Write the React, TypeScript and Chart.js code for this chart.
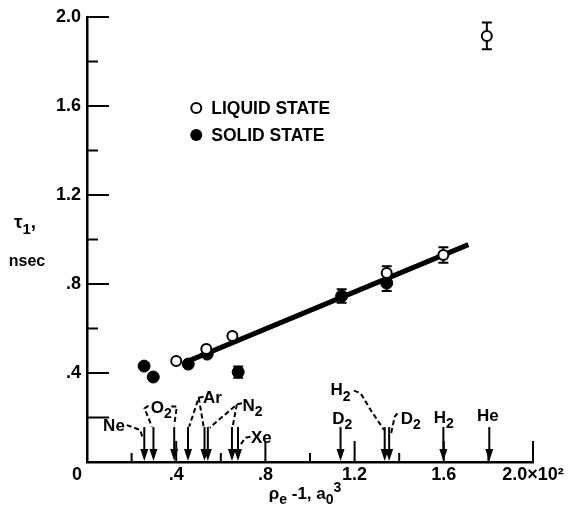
import { useEffect, useRef } from 'react';
import { Chart, registerables } from 'chart.js';

Chart.register(...registerables);

// ---- data ----
const liquidX = [0.40, 0.535, 0.652, 1.344, 1.598, 1.793];
const liquidY = [0.454, 0.508, 0.566, 0.85, 0.93, 1.915];
const liquidErr = [0, 0, 0, 0.03, 0.035, 0.06];

const solidX = [0.256, 0.297, 0.454, 0.539, 0.678, 1.142, 1.344];
const solidY = [0.431, 0.382, 0.44, 0.485, 0.404, 0.746, 0.804];
const solidErr = [0, 0, 0, 0, 0.025, 0.03, 0.035];

const fitX = [0.44, 1.71];
const fitY = [0.448, 0.977];

const xTickLabels = ['', '', '.4', '', '.8', '', '1.2', '', '1.6', '', '2.0×10²'];
const yTickLabels = ['', '', '.4', '', '.8', '', '1.2', '', '1.6', '', '2.0'];

// marker arrows on the x axis (value of rho_e^-1 for each gas)
const arrowX = [0.257, 0.298, 0.391, 0.453, 0.527, 0.542, 0.65, 0.677, 1.137, 1.335, 1.355, 1.598, 1.804];
const arrowTop = 0.157;

const gasLabels = ['Ne', 'O_2', 'Ar', 'N_2', 'Xe', 'H_2', 'D_2', 'D_2', 'H_2', 'He'];
const gasLabelX = [0.121, 0.333, 0.562, 0.742, 0.782, 1.137, 1.145, 1.452, 1.6, 1.798];
const gasLabelY = [0.166, 0.247, 0.292, 0.258, 0.112, 0.326, 0.198, 0.198, 0.204, 0.211];

const leaders: number[][][] = [
  [[0.178, 0.166], [0.238, 0.144], [0.25, 0.108]],
  [[0.276, 0.253], [0.258, 0.241], [0.291, 0.159]],
  [[0.378, 0.249], [0.403, 0.249], [0.391, 0.166]],
  [[0.523, 0.293], [0.501, 0.289], [0.458, 0.159]],
  [[0.501, 0.289], [0.523, 0.159]],
  [[0.695, 0.264], [0.672, 0.259], [0.55, 0.154]],
  [[0.672, 0.259], [0.653, 0.159]],
  [[0.733, 0.114], [0.71, 0.109], [0.683, 0.069]],
  [[1.197, 0.321], [1.227, 0.309], [1.272, 0.234], [1.332, 0.144]],
  [[1.392, 0.219], [1.38, 0.204], [1.362, 0.121]],
];

const legendLabels = ['LIQUID STATE', 'SOLID STATE'];

const FAMILY = "'Liberation Sans', Arial, sans-serif";

type Seg = { t: string; s?: 'sub' | 'sup' };

function parseLabel(txt: string): Seg[] {
  const parts = txt.split('_');
  const out: Seg[] = [{ t: parts[0] }];
  if (parts[1]) out.push({ t: parts[1], s: 'sub' });
  return out;
}

function drawRich(ctx: CanvasRenderingContext2D, segs: Seg[], x: number, baseline: number, size: number, align: 'left' | 'center') {
  const fontFor = (s?: string) => `bold ${s ? Math.round(size * 0.8) : size}px ${FAMILY}`;
  let total = 0;
  const widths = segs.map((g) => {
    ctx.font = fontFor(g.s);
    const w = ctx.measureText(g.t).width;
    total += w;
    return w;
  });
  let cx = align === 'center' ? x - total / 2 : x;
  ctx.textAlign = 'left';
  ctx.textBaseline = 'alphabetic';
  segs.forEach((g, i) => {
    ctx.font = fontFor(g.s);
    const dy = g.s === 'sub' ? size * 0.3 : g.s === 'sup' ? -size * 0.42 : 0;
    ctx.fillText(g.t, cx, baseline + dy);
    cx += widths[i];
  });
}

const decorPlugin = {
  id: 'decor',
  beforeDatasetsDraw(chart: any) {
    const ctx = chart.ctx as CanvasRenderingContext2D;
    const xs = chart.scales.x;
    const ys = chart.scales.y;
    ctx.save();
    ctx.strokeStyle = '#000';
    ctx.lineWidth = 2;
    const bars = (X: number[], Y: number[], E: number[]) => {
      X.forEach((xv, i) => {
        if (!E[i]) return;
        const px = xs.getPixelForValue(xv);
        const p1 = ys.getPixelForValue(Y[i] + E[i]);
        const p2 = ys.getPixelForValue(Y[i] - E[i]);
        ctx.beginPath();
        ctx.moveTo(px, p1);
        ctx.lineTo(px, p2);
        ctx.moveTo(px - 5, p1);
        ctx.lineTo(px + 5, p1);
        ctx.moveTo(px - 5, p2);
        ctx.lineTo(px + 5, p2);
        ctx.stroke();
      });
    };
    bars(liquidX, liquidY, liquidErr);
    bars(solidX, solidY, solidErr);
    ctx.restore();
  },
  afterDraw(chart: any) {
    const ctx = chart.ctx as CanvasRenderingContext2D;
    const xs = chart.scales.x;
    const ys = chart.scales.y;
    const x0 = xs.getPixelForValue(0);
    const y0 = ys.getPixelForValue(0);
    ctx.save();
    ctx.fillStyle = '#000';
    ctx.strokeStyle = '#000';

    // inward ticks
    ctx.lineWidth = 2;
    xs.ticks.forEach((t: any, i: number) => {
      if (i === 0) return;
      const px = xs.getPixelForValue(t.value);
      const len = i % 2 === 0 ? 21 : 9;
      ctx.beginPath();
      ctx.moveTo(px, y0);
      ctx.lineTo(px, y0 - len);
      ctx.stroke();
    });
    ys.ticks.forEach((t: any, i: number) => {
      if (i === 0) return;
      const py = ys.getPixelForValue(t.value);
      const len = i % 2 === 0 || i === 1 ? 22 : 11;
      ctx.beginPath();
      ctx.moveTo(x0, py);
      ctx.lineTo(x0 + len, py);
      ctx.stroke();
    });

    // corner zero
    ctx.font = `bold 18px ${FAMILY}`;
    ctx.textAlign = 'center';
    ctx.textBaseline = 'middle';
    ctx.fillText('0', x0 - 10, y0 + 13);

    // arrows
    arrowX.forEach((xv) => {
      const px = xs.getPixelForValue(xv);
      const top = ys.getPixelForValue(arrowTop);
      const bot = y0 - 1;
      ctx.lineWidth = 2;
      ctx.beginPath();
      ctx.moveTo(px, top);
      ctx.lineTo(px, bot - 9);
      ctx.stroke();
      ctx.beginPath();
      ctx.moveTo(px - 4, bot - 12);
      ctx.lineTo(px + 4, bot - 12);
      ctx.lineTo(px, bot);
      ctx.closePath();
      ctx.fill();
    });

    // leaders
    ctx.lineWidth = 2;
    ctx.setLineDash([5, 3]);
    leaders.forEach((pl) => {
      ctx.beginPath();
      pl.forEach((p, i) => {
        const px = xs.getPixelForValue(p[0]);
        const py = ys.getPixelForValue(p[1]);
        if (i === 0) ctx.moveTo(px, py);
        else ctx.lineTo(px, py);
      });
      ctx.stroke();
    });
    ctx.setLineDash([]);

    // gas labels
    gasLabels.forEach((lab, i) => {
      const px = xs.getPixelForValue(gasLabelX[i]);
      const py = ys.getPixelForValue(gasLabelY[i]);
      drawRich(ctx, parseLabel(lab), px, py + 6, 17, 'center');
    });

    // legend
    const lx = xs.getPixelForValue(0.49);
    const ly1 = ys.getPixelForValue(1.591);
    const ly2 = ys.getPixelForValue(1.47);
    ctx.lineWidth = 2;
    ctx.beginPath();
    ctx.arc(lx, ly1, 5, 0, Math.PI * 2);
    ctx.fillStyle = '#fff';
    ctx.fill();
    ctx.stroke();
    ctx.fillStyle = '#000';
    ctx.beginPath();
    ctx.arc(lx, ly2, 6, 0, Math.PI * 2);
    ctx.fill();
    ctx.font = `bold 17.5px ${FAMILY}`;
    ctx.textAlign = 'left';
    ctx.textBaseline = 'alphabetic';
    ctx.fillText(legendLabels[0], lx + 15, ly1 + 6);
    ctx.fillText(legendLabels[1], lx + 15, ly2 + 6);

    // y title
    drawRich(ctx, [{ t: 'τ' }, { t: '1', s: 'sub' }, { t: ',' }], 14, 228, 19, 'left');
    ctx.font = `bold 16px ${FAMILY}`;
    ctx.textAlign = 'center';
    ctx.fillText('nsec', 27, 266);

    // x title
    drawRich(
      ctx,
      [{ t: 'ρ' }, { t: 'e', s: 'sub' }, { t: ' -1, a' }, { t: '0', s: 'sub' }, { t: '3', s: 'sup' }],
      305,
      499,
      17,
      'center'
    );
    ctx.restore();
  },
};

export default function App() {
  const ref = useRef<HTMLCanvasElement | null>(null);
  useEffect(() => {
    if (!ref.current) return;
    const tickFont = { family: FAMILY, size: 18, weight: 'bold' as const };
    const chart = new Chart(ref.current, {
      type: 'scatter',
      data: {
        datasets: [
          {
            label: 'fit',
            data: fitX.map((x, i) => ({ x, y: fitY[i] })),
            showLine: true,
            borderColor: '#000',
            borderWidth: 5,
            pointRadius: 0,
            order: 3,
          },
          {
            label: 'SOLID STATE',
            data: solidX.map((x, i) => ({ x, y: solidY[i] })),
            backgroundColor: '#000',
            borderColor: '#000',
            borderWidth: 1,
            pointRadius: 6,
            order: 2,
          },
          {
            label: 'LIQUID STATE',
            data: liquidX.map((x, i) => ({ x, y: liquidY[i] })),
            backgroundColor: '#fff',
            borderColor: '#000',
            borderWidth: 2,
            pointRadius: 5,
            order: 1,
          },
        ],
      },
      options: {
        animation: false,
        responsive: false,
        devicePixelRatio: 1,
        events: [],
        layout: { padding: { left: 0, top: 17, right: 37, bottom: 0 } },
        plugins: { legend: { display: false }, tooltip: { enabled: false } },
        scales: {
          x: {
            type: 'linear',
            min: 0,
            max: 2,
            afterFit: (s: any) => {
              s.height = 44;
            },
            grid: { display: false, drawTicks: false },
            border: { display: true, color: '#000', width: 2.5 },
            ticks: {
              stepSize: 0.2,
              autoSkip: false,
              maxRotation: 0,
              color: '#000',
              font: tickFont,
              padding: 2,
              callback: (_v: any, i: number) => xTickLabels[i] ?? '',
            },
          },
          y: {
            type: 'linear',
            min: 0,
            max: 2,
            afterFit: (s: any) => {
              s.width = 87;
            },
            grid: { display: false, drawTicks: false },
            border: { display: true, color: '#000', width: 2.5 },
            ticks: {
              stepSize: 0.2,
              autoSkip: false,
              color: '#000',
              font: tickFont,
              padding: 6,
              callback: (_v: any, i: number) => yTickLabels[i] ?? '',
            },
          },
        },
      },
      plugins: [decorPlugin],
    } as any);
    return () => chart.destroy();
  }, []);
  return (
    <div style={{ position: 'absolute', left: 0, top: 0, width: 570, height: 506, background: '#fff' }}>
      <canvas ref={ref} width={570} height={506} style={{ width: 570, height: 506, display: 'block' }} />
    </div>
  );
}
